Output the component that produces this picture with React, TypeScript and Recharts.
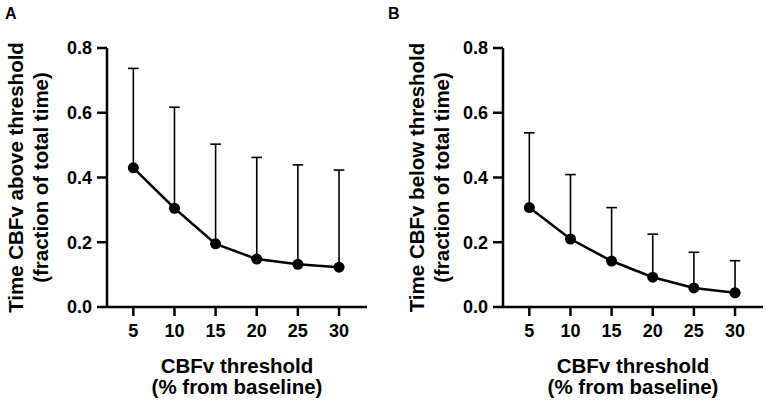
import { ComposedChart, ErrorBar, Label, Line, Scatter, XAxis, YAxis } from "recharts";

const thresholds = [5, 10, 15, 20, 25, 30];
const aboveMean = [0.43, 0.305, 0.195, 0.148, 0.132, 0.123];
const aboveUpper = [0.737, 0.617, 0.503, 0.462, 0.439, 0.423];
const belowMean = [0.307, 0.21, 0.142, 0.092, 0.059, 0.044];
const belowUpper = [0.538, 0.409, 0.307, 0.225, 0.169, 0.143];
const yTicks = [0, 0.2, 0.4, 0.6, 0.8];

const FONT = '"Liberation Sans", Arial, Helvetica, sans-serif';
const INK = "#000";

type Row = { t: number; mean: number; err: [number, number] };

function buildRows(means: number[], uppers: number[]): Row[] {
  return thresholds.map((t, i) => ({
    t,
    mean: means[i],
    err: [0, uppers[i] - means[i]],
  }));
}

const yTitle = (lines: string[], offsets: number[]) => (props: any) => {
  const vb = props.viewBox;
  const cy = vb.y + vb.height / 2;
  const axisX = vb.x + vb.width;
  return (
    <g>
      {lines.map((s, i) => (
        <text
          key={s}
          transform={`translate(${axisX - offsets[i]},${cy}) rotate(-90)`}
          textAnchor="middle"
          dominantBaseline="central"
          fontFamily={FONT}
          fontWeight={700}
          fontSize={20.5}
          fill={INK}
        >
          {s}
        </text>
      ))}
    </g>
  );
};

const xTitle = (props: any) => {
  const vb = props.viewBox;
  const cx = vb.x + vb.width / 2;
  return (
    <g fontFamily={FONT} fontWeight={700} fontSize={20.5} fill={INK}>
      <text x={cx} y={vb.y + 65.5} textAnchor="middle">
        CBFv threshold
      </text>
      <text x={cx} y={vb.y + 86.5} textAnchor="middle">
        (% from baseline)
      </text>
    </g>
  );
};

const dotShape = (p: any) => <circle cx={p.cx} cy={p.cy} r={5.5} fill={INK} />;

type PanelProps = {
  letter: string;
  rows: Row[];
  titleLines: string[];
  titleOffsets: number[];
  axisWidth: number;
  right: number;
};

function Panel({ letter, rows, titleLines, titleOffsets, axisWidth, right }: PanelProps) {
  const tickStyle = { fontFamily: FONT, fontWeight: 700, fontSize: 18, fill: INK };
  return (
    <div style={{ position: "relative", width: 383, height: 406 }}>
      <div
        style={{
          position: "absolute",
          left: 5,
          top: 5,
          fontFamily: FONT,
          fontWeight: 700,
          fontSize: 16,
          color: INK,
        }}
      >
        {letter}
      </div>
      <ComposedChart
        width={383}
        height={406}
        data={rows}
        margin={{ top: 48, right, bottom: 0, left: 0 }}
      >
        <XAxis
          dataKey="t"
          type="number"
          domain={[1.8, 33.4]}
          ticks={thresholds}
          tickSize={9}
          tickMargin={8}
          tick={tickStyle}
          stroke={INK}
          strokeWidth={2.5}
          tickLine={{ stroke: INK, strokeWidth: 2.5 }}
          height={99}
        >
          <Label content={xTitle} />
        </XAxis>
        <YAxis
          type="number"
          domain={[0, 0.8]}
          ticks={yTicks}
          tickFormatter={(v) => Number(v).toFixed(1)}
          tickSize={10}
          tickMargin={5}
          tick={tickStyle}
          stroke={INK}
          strokeWidth={2.5}
          tickLine={{ stroke: INK, strokeWidth: 2.5 }}
          width={axisWidth}
        >
          <Label content={yTitle(titleLines, titleOffsets)} />
        </YAxis>
        <Line
          dataKey="mean"
          stroke={INK}
          strokeWidth={2.5}
          dot={false}
          activeDot={false}
          isAnimationActive={false}
        >
          <ErrorBar dataKey="err" direction="y" width={5.3} stroke={INK} strokeWidth={1.6} />
        </Line>
        <Scatter dataKey="mean" shape={dotShape} isAnimationActive={false} />
      </ComposedChart>
    </div>
  );
}

export default function App() {
  return (
    <div
      style={{
        position: "absolute",
        left: 0,
        top: 0,
        width: 766,
        height: 406,
        display: "flex",
        background: "#fff",
      }}
    >
      <Panel
        letter="A"
        rows={buildRows(aboveMean, aboveUpper)}
        titleLines={["Time CBFv above threshold", "(fraction of total time)"]}
        titleOffsets={[92, 67]}
        axisWidth={107}
        right={16}
      />
      <Panel
        letter="B"
        rows={buildRows(belowMean, belowUpper)}
        titleLines={["Time CBFv below threshold", "(fraction of total time)"]}
        titleOffsets={[87, 62]}
        axisWidth={120}
        right={3}
      />
    </div>
  );
}
